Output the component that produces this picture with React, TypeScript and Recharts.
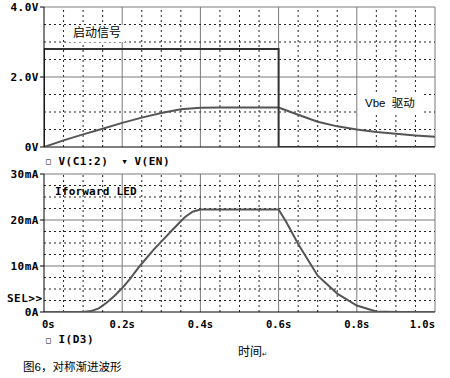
import React from 'react';
import { LineChart, Line, XAxis, YAxis, ReferenceLine } from 'recharts';

// ---- axis ticks / labels ----
const timeTicks = [0, 0.2, 0.4, 0.6, 0.8, 1.0];
const timeLabels = ['0s', '0.2s', '0.4s', '0.6s', '0.8s', '1.0s'];
const timeMinor = [0.05, 0.1, 0.15, 0.25, 0.3, 0.35, 0.45, 0.5, 0.55, 0.65, 0.7, 0.75, 0.85, 0.9, 0.95];

const voltTicks = [0, 2, 4];
const voltLabels = ['0V', '2.0V', '4.0V'];
const voltMinor = [0.5, 1, 1.5, 2.5, 3, 3.5];

const currTicks = [0, 10, 20, 30];
const currLabels = ['0A', '10mA', '20mA', '30mA'];
const currMinor = [2.5, 5, 7.5, 12.5, 15, 17.5, 22.5, 25, 27.5];

// ---- series: V(EN) start signal ----
const enTime = [0, 0, 0.6, 0.6, 1.0];
const enVolt = [0, 2.8, 2.8, 0, 0];

// ---- series: V(C1:2) Vbe drive ----
const c1Time = [0, 0.05, 0.1, 0.15, 0.2, 0.25, 0.3, 0.35, 0.4, 0.45, 0.5, 0.55, 0.6, 0.65, 0.7, 0.75, 0.8, 0.85, 0.9, 0.95, 1.0];
const c1Volt = [0, 0.19, 0.36, 0.52, 0.69, 0.84, 0.97, 1.08, 1.12, 1.13, 1.13, 1.13, 1.13, 0.92, 0.72, 0.59, 0.5, 0.43, 0.38, 0.33, 0.29];

// ---- series: I(D3) forward LED current (mA) ----
const d3Time = [0, 0.1, 0.12, 0.14, 0.16, 0.18, 0.2, 0.22, 0.245, 0.28, 0.3, 0.33, 0.36, 0.38, 0.4, 0.6, 0.62, 0.65, 0.7, 0.75, 0.8, 0.85, 0.9, 1.0];
const d3Curr = [0, 0, 0.2, 0.8, 2.0, 3.5, 5.2, 7.2, 10, 13.5, 15.3, 18.0, 20.6, 21.8, 22.3, 22.3, 19.5, 14.8, 7.9, 4.0, 1.4, 0.1, 0, 0];

const zip = (ts: number[], vs: number[]) => ts.map((t, i) => ({ t, v: vs[i] }));
const enData = zip(enTime, enVolt);
const c1Data = zip(c1Time, c1Volt);
const d3Data = zip(d3Time, d3Curr);

const MONO = "'DejaVu Sans Mono', monospace";
const CJK = "'Liberation Sans', 'Noto Sans CJK SC', sans-serif";
const CURVE = '#555';
const MAJOR = '#7a7a7a';
const MINOR = '#222';

const tickStyle = { fill: '#000', fontSize: 11, fontFamily: MONO, fontWeight: 'bold', letterSpacing: 0.5 };

const TimeTick = (props: any) => {
  const { x, y, payload } = props;
  const i = timeTicks.indexOf(payload.value);
  const anchor = i === 0 ? 'start' : i === timeTicks.length - 1 ? 'end' : 'middle';
  const dx = i === 0 ? -2 : 0;
  return (
    <text x={x + dx} y={y} dy="0.71em" textAnchor={anchor} fill="#000" fontSize={10.5} fontFamily={MONO} fontWeight="bold">
      {timeLabels[i]}
    </text>
  );
};

const gridX = (minor: number[], major: number[]) => [
  ...minor.map((v) => <ReferenceLine key={'mx' + v} x={v} stroke={MINOR} strokeDasharray="2 3" />),
  ...major.map((v) => <ReferenceLine key={'Mx' + v} x={v} stroke={MAJOR} />),
];
const gridY = (minor: number[], major: number[]) => [
  ...minor.map((v) => <ReferenceLine key={'my' + v} y={v} stroke={MINOR} strokeDasharray="2 3" />),
  ...major.map((v) => <ReferenceLine key={'My' + v} y={v} stroke={MAJOR} />),
];

const abs = (left: number, top: number, extra: React.CSSProperties = {}): React.CSSProperties => ({
  position: 'absolute', left, top, whiteSpace: 'pre', ...extra,
});

export default function App() {
  return (
    <div style={{ position: 'absolute', left: 0, top: 0, width: 450, height: 378, background: '#fff', overflow: 'hidden' }}>
      {/* top panel */}
      <div style={{ position: 'absolute', left: 0, top: 0 }}>
        <LineChart width={450} height={160} margin={{ top: 7, right: 15, bottom: 13, left: 0 }}>
          <XAxis type="number" dataKey="t" domain={[0, 1]} hide allowDataOverflow />
          <YAxis
            type="number"
            domain={[0, 4]}
            ticks={voltTicks}
            interval={0}
            width={44}
            tickSize={4}
            tickMargin={1}
            tickFormatter={(v: number) => voltLabels[voltTicks.indexOf(v)]}
            tick={tickStyle}
            axisLine={{ stroke: '#000' }}
            tickLine={{ stroke: '#000' }}
            allowDataOverflow
          />
          {gridX(timeMinor, [0.2, 0.4, 0.6, 0.8, 1.0])}
          {gridY(voltMinor, [2, 4])}
          <ReferenceLine y={0} stroke="#000" />
          <Line data={c1Data} dataKey="v" type="linear" dot={false} isAnimationActive={false} stroke={CURVE} strokeWidth={2} />
          <Line data={enData} dataKey="v" type="linear" dot={false} isAnimationActive={false} stroke="#333" strokeWidth={2} />
        </LineChart>
      </div>

      {/* bottom panel */}
      <div style={{ position: 'absolute', left: 0, top: 0 }}>
        <LineChart width={450} height={378} margin={{ top: 174, right: 15, bottom: 36, left: 0 }}>
          <XAxis
            type="number"
            dataKey="t"
            domain={[0, 1]}
            ticks={timeTicks}
            interval={0}
            height={30}
            tickSize={0}
            tickMargin={9}
            axisLine={false}
            tickLine={false}
            tick={<TimeTick />}
            allowDataOverflow
          />
          <YAxis
            type="number"
            domain={[0, 30]}
            ticks={currTicks}
            interval={0}
            width={44}
            tickSize={4}
            tickMargin={1}
            tickFormatter={(v: number) => currLabels[currTicks.indexOf(v)]}
            tick={tickStyle}
            axisLine={{ stroke: '#000' }}
            tickLine={{ stroke: '#000' }}
            allowDataOverflow
          />
          {gridX(timeMinor, [0.2, 0.4, 0.6, 0.8, 1.0])}
          {gridY(currMinor, [10, 20, 30])}
          <ReferenceLine y={0} stroke="#000" />
          <Line data={d3Data} dataKey="v" type="linear" dot={false} isAnimationActive={false} stroke={CURVE} strokeWidth={2} />
        </LineChart>
      </div>

      {/* annotations */}
      <div style={abs(69, 25, { background: '#fff', width: 56, height: 17 })} />
      <div style={abs(73, 26, { fontFamily: CJK, fontSize: 12, lineHeight: '14px', color: '#000' })}>启动信号</div>

      <div style={abs(358, 94, { background: '#fff', width: 64, height: 19 })} />
      <div style={abs(365, 96, { fontFamily: CJK, fontSize: 11.5, lineHeight: '15px', color: '#000' })}>{'Vbe  驱动'}</div>

      <div style={abs(55, 185, { fontFamily: MONO, fontWeight: 'bold', fontSize: 11, lineHeight: '14px', letterSpacing: 0.2 })}>Iforward LED</div>
      <div style={abs(7, 292, { fontFamily: MONO, fontWeight: 'bold', fontSize: 11, lineHeight: '14px', letterSpacing: 0.5 })}>{'SEL>>'}</div>

      {/* legends */}
      <div style={abs(46, 155, { fontFamily: MONO, fontWeight: 'bold', fontSize: 11, lineHeight: '14px', letterSpacing: 0.5 })}>
        <span style={{ fontSize: 8, verticalAlign: 'middle' }}>□</span>
        {' V(C1:2)  '}
        <span style={{ fontSize: 7, verticalAlign: 'middle' }}>▼</span>
        {' V(EN)'}
      </div>
      <div style={abs(46, 334, { fontFamily: MONO, fontWeight: 'bold', fontSize: 11, lineHeight: '11px', letterSpacing: 0.5 })}>
        <span style={{ fontSize: 8, verticalAlign: 'middle' }}>□</span>
        {' I(D3)'}
      </div>

      <div style={abs(238, 345, { fontFamily: CJK, fontSize: 12, lineHeight: '14px' })}>
        时间<span style={{ fontSize: 6 }}>↵</span>
      </div>
      <div style={abs(23, 360, { fontFamily: CJK, fontSize: 11.5, lineHeight: '14px' })}>图6，对称渐进波形</div>
    </div>
  );
}
